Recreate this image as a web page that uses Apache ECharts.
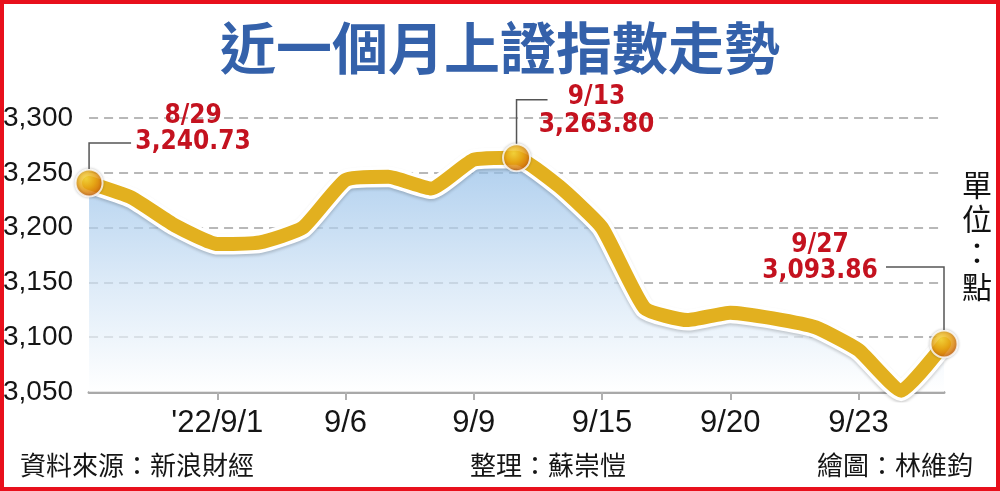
<!DOCTYPE html>
<html>
<head>
<meta charset="utf-8">
<script src="https://cdn.jsdelivr.net/npm/echarts@6/dist/echarts.min.js"></script>
<style>
html,body{margin:0;padding:0;background:#fff;}
#c{width:1000px;height:491px;}
</style>
</head>
<body>
<div id="c"></div>
<script>
// ---- data ----
const dates = ['8/29','8/30','8/31','9/1','9/2','9/5','9/6','9/7','9/8','9/9','9/13','9/14','9/15','9/16','9/19','9/20','9/21','9/22','9/23','9/26','9/27'];
const closeValues = [3240.73,3227.22,3202.14,3184.98,3186.48,3199.91,3243.45,3246.29,3235.59,3262.05,3263.80,3237.54,3199.92,3126.40,3115.60,3122.41,3117.18,3108.91,3088.37,3051.23,3093.86];
const tickIndex = [3,6,9,12,15,18];
const tickLabels = ["'22/9/1",'9/6','9/9','9/15','9/20','9/23'];
const highlightIndex = [0,10,20];
const highlightDates = ['8/29','9/13','9/27'];
const highlightValues = ['3,240.73','3,263.80','3,093.86'];
const titleText = '近一個月上證指數走勢';
const unitText = '單位：點';
const sourceText = '資料來源：新浪財經';
const editorText = '整理：蘇崇愷';
const artistText = '繪圖：林維鈞';

const chart = echarts.init(document.getElementById('c'), null, {renderer:'canvas'});
const numFont = '"Liberation Sans", Arial, sans-serif';
const cjkFont = '"Noto Sans CJK TC", "Noto Sans CJK SC", sans-serif';
const showTick = (i) => tickIndex.indexOf(i) >= 0;

const option = {
  backgroundColor: '#ffffff',
  animation: false,
  grid: {left: 88, right: 56, top: 118, bottom: 99, containLabel: false},
  xAxis: {
    type: 'category',
    data: dates,
    boundaryGap: false,
    axisLine: {show: true, lineStyle: {color: '#a9a9a9', width: 3}},
    axisTick: {show: true, interval: (i) => showTick(i), length: 8, lineStyle: {color: '#b0b0b0', width: 2}},
    axisLabel: {
      interval: (i) => showTick(i),
      formatter: (v, i) => { const k = tickIndex.indexOf(i); return k >= 0 ? tickLabels[k] : ''; },
      color: '#151515', fontSize: 31, fontFamily: numFont, margin: 16
    },
    splitLine: {show: false}
  },
  yAxis: {
    type: 'value',
    min: 3050, max: 3300, interval: 50,
    axisLine: {show: false},
    axisTick: {show: false},
    axisLabel: {
      formatter: (v) => v.toLocaleString('en-US'),
      color: '#151515', fontSize: 28, fontFamily: numFont, margin: 16
    },
    splitLine: {show: true, lineStyle: {color: '#b8b8b8', width: 2, type: [9, 6]}}
  },
  series: [
    {
      type: 'line',
      data: closeValues,
      smooth: 0.15,
      showSymbol: false,
      lineStyle: {color: '#ffffff', width: 21, join: 'round', cap: 'round',
        shadowColor: 'rgba(0,0,0,0.18)', shadowBlur: 3, shadowOffsetY: 2},
      areaStyle: {
        origin: 'start',
        color: new echarts.graphic.LinearGradient(0, 0, 0, 1, [
          {offset: 0, color: '#8ebbe7'},
          {offset: 0.55, color: '#d0e3f5'},
          {offset: 1, color: '#ffffff'}
        ])
      },
      z: 2
    },
    {
      type: 'line',
      data: closeValues,
      smooth: 0.15,
      showSymbol: false,
      lineStyle: {color: '#e2b01f', width: 14, join: 'round', cap: 'round'},
      z: 3
    },
    {
      type: 'scatter',
      data: highlightIndex.map(i => [i, closeValues[i]]),
      symbol: 'circle',
      symbolSize: 27,
      itemStyle: {
        color: new echarts.graphic.RadialGradient(0.4, 0.35, 0.7, [
          {offset: 0, color: '#ffe040'},
          {offset: 0.45, color: '#f2ac14'},
          {offset: 1, color: '#d45a0a'}
        ]),
        borderColor: '#ffffff', borderWidth: 2,
        shadowColor: 'rgba(0,0,0,0.25)', shadowBlur: 3
      },
      z: 5
    }
  ]
};
chart.setOption(option);

// annotations anchored to the highlighted points
const red = '#c4121f';
const lineCol = '#555555';
const labelFont = '"DejaVu Sans Condensed", "DejaVu Sans", sans-serif';
const graphics = [];
// border
graphics.push({type: 'rect', shape: {x: 2, y: 2, width: 996, height: 487}, style: {fill: 'none', stroke: '#e8101c', lineWidth: 4}, z: 100});
// title
graphics.push({type: 'text', x: 500, y: 48, style: {text: titleText, fill: '#3461aa', font: 'bold 56px ' + cjkFont, textAlign: 'center', textVerticalAlign: 'middle'}, z: 50});
// unit
graphics.push({type: 'text', x: 977, y: 236, style: {text: unitText.split('').join('\n'), fill: '#111', font: '30px ' + cjkFont, lineHeight: 34, textAlign: 'center', textVerticalAlign: 'middle'}, z: 50});
// footer
graphics.push({type: 'text', x: 20, y: 465, style: {text: sourceText, fill: '#151515', font: '26px ' + cjkFont, textAlign: 'left', textVerticalAlign: 'middle'}, z: 50});
graphics.push({type: 'text', x: 470, y: 465, style: {text: editorText, fill: '#151515', font: '26px ' + cjkFont, textAlign: 'left', textVerticalAlign: 'middle'}, z: 50});
graphics.push({type: 'text', x: 973, y: 465, style: {text: artistText, fill: '#151515', font: '26px ' + cjkFont, textAlign: 'right', textVerticalAlign: 'middle'}, z: 50});

// callout offsets relative to each marker
const callouts = [
  {vTop: -40, vBot: -14, hx: 42, tdx: 104, dy1: -67, dy2: -41},
  {vTop: -58, vBot: -14, hx: 31, tdx: 80, dy1: -60, dy2: -32},
  {vTop: -77, vBot: -14, hx: -58, tdx: -124, dy1: -99, dy2: -73}
];
highlightIndex.forEach((idx, k) => {
  const p = chart.convertToPixel({seriesIndex: 2}, [idx, closeValues[idx]]);
  const c = callouts[k];
  graphics.push({type: 'polyline', shape: {points: [[p[0], p[1] + c.vBot], [p[0], p[1] + c.vTop], [p[0] + c.hx, p[1] + c.vTop]]},
    style: {stroke: lineCol, lineWidth: 1.5, fill: 'none'}, z: 40});
  graphics.push({type: 'text', x: p[0] + c.tdx, y: p[1] + c.dy1, style: {text: highlightDates[k], fill: red, font: 'bold 26px ' + labelFont, textAlign: 'center', textVerticalAlign: 'middle'}, z: 50});
  graphics.push({type: 'text', x: p[0] + c.tdx, y: p[1] + c.dy2, style: {text: highlightValues[k], fill: red, font: 'bold 26px ' + labelFont, textAlign: 'center', textVerticalAlign: 'middle'}, z: 50});
});
chart.setOption({graphic: graphics});
</script>
</body>
</html>
